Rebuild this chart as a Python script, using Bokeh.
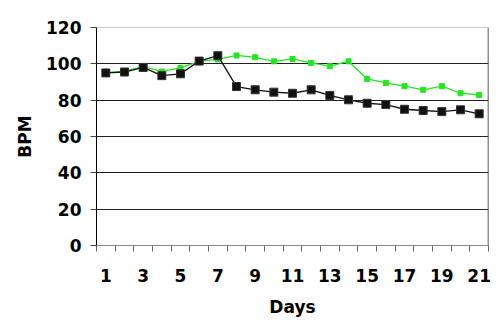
from bokeh.plotting import figure
from bokeh.models import FixedTicker, Span, Range1d
from bokeh.embed import file_html
from bokeh.resources import INLINE

days = list(range(1, 22))
black_bpm = [95, 95.5, 98, 93.5, 94.5, 101.5, 104.5, 87.5, 85.7, 84.4, 83.8,
             85.7, 82.6, 80.2, 78.3, 77.6, 75, 74.3, 73.7, 74.7, 72.5]
green_bpm = [95, 96, 98.5, 95.8, 97.8, 101.4, 102.4, 104.6, 103.6, 101.4, 102.7,
             100.5, 98.7, 101.4, 91.7, 89.5, 87.7, 85.7, 87.7, 83.8, 82.9]
y_ticks = [0, 20, 40, 60, 80, 100, 120]
x_label_ticks = [1, 3, 5, 7, 9, 11, 13, 15, 17, 19, 21]

FONT = "DejaVu Sans"

p = figure(width=500, height=334, output_backend="svg", toolbar_location=None,
           x_range=Range1d(0.5, 21.5), y_range=Range1d(0, 120),
           min_border_left=96, min_border_right=12, min_border_top=27,
           min_border_bottom=89)
p.outline_line_color = None
p.background_fill_color = "white"
p.border_fill_color = "white"

# axes
p.xaxis.ticker = FixedTicker(ticks=x_label_ticks,
                             minor_ticks=[d - 0.5 for d in days] + [21.5])
p.xaxis.major_tick_out = 0
p.xaxis.major_tick_in = 0
p.xaxis.minor_tick_out = 6
p.xaxis.minor_tick_in = 0
p.xaxis.minor_tick_line_color = "#666666"
p.xaxis.axis_line_color = "#888888"
p.xaxis.major_label_standoff = 17
p.xaxis.axis_label = "Days"
p.xaxis.axis_label_standoff = 12

p.yaxis.ticker = FixedTicker(ticks=y_ticks)
p.yaxis.major_tick_out = 6
p.yaxis.major_tick_in = 0
p.yaxis.minor_tick_out = 0
p.yaxis.minor_tick_in = 0
p.yaxis.axis_line_color = "black"
p.yaxis.major_tick_line_color = "#444444"
p.yaxis.major_label_standoff = 9
p.yaxis.axis_label = "BPM"
p.yaxis.axis_label_standoff = 8

for ax in (p.xaxis, p.yaxis):
    ax.major_label_text_font = FONT
    ax.major_label_text_font_style = "bold"
    ax.major_label_text_font_size = "17px"
    ax.major_label_text_color = "black"
    ax.axis_label_text_font = FONT
    ax.axis_label_text_font_style = "bold"
    ax.axis_label_text_font_size = "17px"
    ax.axis_label_text_color = "black"

p.xgrid.visible = False
p.ygrid.ticker = FixedTicker(ticks=[20, 40, 60, 80, 100])
p.ygrid.grid_line_color = "#222222"
p.ygrid.grid_line_width = 1

p.add_layout(Span(location=120, dimension="width", line_color="#999999", line_width=1))
p.add_layout(Span(location=21.5, dimension="height", line_color="#222222", line_width=1.5))

# series
p.line(days, green_bpm, line_color="#22e622", line_width=1.3)
p.scatter(days, green_bpm, marker="square", size=5, fill_color="#22e622",
          line_color="#22e622")
p.line(days, black_bpm, line_color="#111111", line_width=1.3)
p.scatter(days, black_bpm, marker="square", size=8, fill_color="#111111",
          line_color="#333333")

open("out.html", "w").write(file_html(p, INLINE))
